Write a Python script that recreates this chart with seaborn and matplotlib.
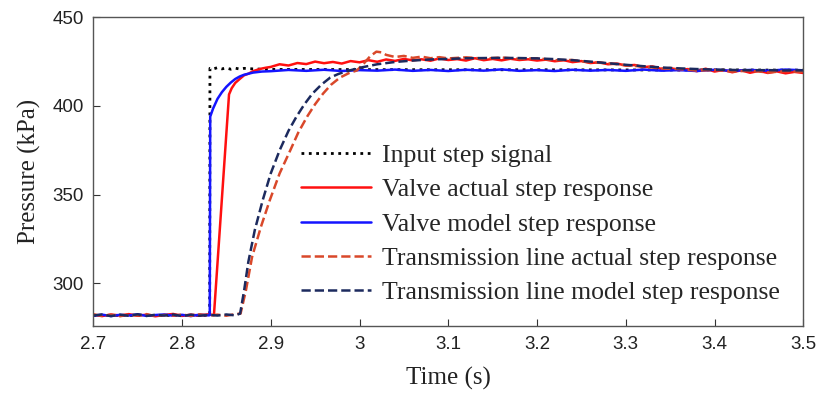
import numpy as np
import pandas as pd
import seaborn as sns
import matplotlib.pyplot as plt

# values (time in s, pressure in kPa)
input_t = [2.70, 2.73, 2.76, 2.79, 2.82, 2.8312, 2.8315, 2.835, 2.84, 2.845, 2.85, 2.855,
           2.86, 2.865, 2.87, 2.88, 2.90, 3.00, 3.10, 3.20, 3.30, 3.40, 3.50]
input_p = [282.0, 282.0, 282.0, 282.0, 282.0, 282.0, 421.2, 420.8, 421.6, 420.9, 421.4, 420.7,
           421.3, 420.8, 421.2, 420.9, 420.6, 420.5, 420.4, 420.4, 420.3, 420.3, 420.2]

valve_act_t = [2.70, 2.71, 2.72, 2.73, 2.74, 2.75, 2.76, 2.77, 2.78, 2.79, 2.80, 2.81, 2.82, 2.83,
               2.836, 2.853, 2.856, 2.86, 2.865, 2.87, 2.875, 2.88, 2.885, 2.89, 2.895,
               2.90, 2.91, 2.92, 2.93, 2.94, 2.95, 2.96, 2.97, 2.98, 2.99,
               3.00, 3.01, 3.02, 3.03, 3.04, 3.05, 3.06, 3.07, 3.08, 3.09,
               3.10, 3.11, 3.12, 3.13, 3.14, 3.15, 3.16, 3.17, 3.18, 3.19,
               3.20, 3.21, 3.22, 3.23, 3.24, 3.25, 3.26, 3.27, 3.28, 3.29,
               3.30, 3.31, 3.32, 3.33, 3.34, 3.35, 3.36, 3.37, 3.38, 3.39,
               3.40, 3.41, 3.42, 3.43, 3.44, 3.45, 3.46, 3.47, 3.48, 3.49, 3.50]
valve_act_p = [282.3, 281.6, 282.5, 281.9, 282.7, 281.8, 282.4, 281.5, 282.2, 282.8, 281.7, 282.4, 281.9, 282.6,
               282.1, 406.5, 410.0, 413.0, 415.2, 417.3, 418.2, 419.6, 420.4, 421.1, 421.6,
               422.0, 423.5, 422.8, 424.2, 423.6, 425.0, 424.1, 424.8, 423.9, 425.3,
               424.6, 425.8, 424.9, 426.2, 425.4, 426.5, 425.7, 426.3, 425.5, 426.8,
               425.9, 426.4, 425.6, 426.9, 425.8, 426.5, 425.7, 426.6, 425.9, 426.3,
               425.6, 426.1, 425.2, 425.8, 424.7, 425.3, 424.2, 424.6, 423.5, 423.9,
               422.8, 423.1, 421.9, 422.3, 420.9, 421.4, 420.2, 420.8, 419.6, 421.0,
               419.4, 420.3, 419.0, 420.1, 418.7, 419.8, 418.6, 419.5, 418.4, 419.2, 418.6]

valve_mod_t = [2.70, 2.71, 2.72, 2.73, 2.74, 2.75, 2.76, 2.77, 2.78, 2.79, 2.80, 2.81, 2.82, 2.83,
               2.8313, 2.8318, 2.835, 2.84, 2.845, 2.85, 2.855, 2.86, 2.865, 2.87, 2.88, 2.89,
               2.90, 2.92, 2.94, 2.96, 2.98, 3.00, 3.02, 3.04, 3.06, 3.08,
               3.10, 3.12, 3.14, 3.16, 3.18, 3.20, 3.22, 3.24, 3.26, 3.28,
               3.30, 3.32, 3.34, 3.36, 3.38, 3.40, 3.42, 3.44, 3.46, 3.48, 3.50]
valve_mod_p = [281.8, 282.4, 281.6, 282.3, 281.9, 282.6, 281.7, 282.2, 282.5, 281.8, 282.3, 281.6, 282.4, 282.0,
               282.1, 394.0, 398.5, 404.0, 407.8, 410.8, 413.2, 415.2, 416.6, 417.6, 418.8, 419.4,
               419.6, 420.3, 419.8, 420.4, 419.7, 420.2, 419.9, 420.5, 419.8, 420.3,
               419.7, 420.4, 419.9, 420.6, 419.8, 420.2, 419.7, 420.4, 419.9, 420.3,
               419.8, 420.5, 419.9, 420.2, 419.7, 420.4, 419.8, 420.3, 419.9, 420.5, 420.1]

line_act_t = [2.70, 2.71, 2.72, 2.73, 2.74, 2.75, 2.76, 2.77, 2.78, 2.79, 2.80, 2.81, 2.82, 2.83,
              2.84, 2.85, 2.86, 2.866, 2.872, 2.879, 2.889, 2.899, 2.910, 2.922, 2.931, 2.941,
              2.950, 2.959, 2.968, 2.978, 2.988, 2.997, 3.005, 3.012, 3.019, 3.025, 3.03,
              3.04, 3.05, 3.06, 3.07, 3.08, 3.09, 3.10, 3.12, 3.14, 3.16, 3.18,
              3.20, 3.22, 3.24, 3.26, 3.28, 3.30, 3.32, 3.34, 3.36, 3.38,
              3.40, 3.42, 3.44, 3.46, 3.48, 3.50]
line_act_p = [282.6, 281.7, 282.3, 281.5, 282.4, 281.9, 282.7, 281.6, 282.2, 281.8, 282.5, 281.7, 282.6, 281.9,
              282.4, 281.8, 282.7, 283.0, 296.0, 315.0, 332.0, 347.0, 362.0, 375.0, 385.0, 394.0,
              401.0, 407.0, 412.0, 416.0, 418.5, 420.0, 424.0, 428.0, 430.6, 430.2, 428.8,
              427.6, 428.2, 427.1, 427.8, 426.9, 427.5, 426.8, 427.4, 426.7, 427.3, 426.5,
              426.9, 425.8, 425.9, 424.6, 424.1, 422.9, 422.2, 421.1, 420.8, 419.9,
              420.3, 419.4, 419.9, 418.9, 419.6, 419.2]

line_mod_t = [2.70, 2.71, 2.72, 2.73, 2.74, 2.75, 2.76, 2.77, 2.78, 2.79, 2.80, 2.81, 2.82, 2.83,
              2.84, 2.85, 2.86, 2.8655, 2.870, 2.8747, 2.882, 2.891, 2.900, 2.910, 2.920, 2.929,
              2.938, 2.947, 2.957, 2.967, 2.976, 2.985, 3.00, 3.02, 3.04, 3.06, 3.08,
              3.10, 3.12, 3.14, 3.16, 3.18, 3.20, 3.22, 3.24, 3.26, 3.28,
              3.30, 3.32, 3.34, 3.36, 3.38, 3.40, 3.42, 3.44, 3.46, 3.48, 3.50]
line_mod_p = [281.9, 282.5, 281.6, 282.4, 281.8, 282.6, 281.7, 282.3, 281.9, 282.5, 281.6, 282.4, 281.8, 282.3,
              281.9, 282.5, 282.0, 283.0, 296.0, 312.0, 330.0, 347.0, 362.0, 375.0, 386.0, 394.0,
              401.0, 407.0, 412.0, 416.0, 418.0, 419.5, 421.5, 423.5, 424.8, 425.6, 426.2,
              426.5, 426.9, 427.0, 427.1, 427.0, 426.8, 426.4, 425.8, 425.0, 424.1,
              423.2, 422.4, 421.7, 421.2, 420.8, 420.5, 420.3, 420.1, 420.2, 420.0, 420.1]

labels = ["Input step signal", "Valve actual step response", "Valve model step response",
          "Transmission line actual step response", "Transmission line model step response"]

sns.set_style("ticks")
plt.rcParams['font.family'] = ['Liberation Serif', 'DejaVu Serif']

fig = plt.figure(figsize=(8.25, 4.01), dpi=100)
ax = fig.add_axes([0.113, 0.187, 0.8607, 0.770])

series = [
    (input_t, input_p, "black", ":", 2.0),
    (valve_act_t, valve_act_p, "#ff1010", "-", 1.8),
    (valve_mod_t, valve_mod_p, "#1414ff", "-", 1.8),
    (line_act_t, line_act_p, "#d9482a", "--", 1.8),
    (line_mod_t, line_mod_p, "#1c2a5e", "--", 1.8),
]
for (t, p, c, ls, lw), lab in zip(series, labels):
    df = pd.DataFrame({"t": t, "p": p})
    sns.lineplot(data=df, x="t", y="p", ax=ax, color=c, linestyle=ls, linewidth=lw,
                 label=lab, estimator=None)

ax.set_xlim(2.7, 3.5)
ax.set_ylim(276, 450)
ax.set_xticks([2.7, 2.8, 2.9, 3.0, 3.1, 3.2, 3.3, 3.4, 3.5])
ax.set_xticklabels(["2.7", "2.8", "2.9", "3", "3.1", "3.2", "3.3", "3.4", "3.5"])
ax.set_yticks([300, 350, 400, 450])
ax.tick_params(direction="in", length=5, width=0.8, color="#333333", pad=7)
for lbl in ax.get_xticklabels() + ax.get_yticklabels():
    lbl.set_fontfamily("Liberation Sans")
    lbl.set_fontsize(13.5)
    lbl.set_color("#222222")
for s in ax.spines.values():
    s.set_color("#555555")
    s.set_linewidth(1.0)

ax.set_xlabel("Time (s)", fontsize=18, color="#222222", labelpad=10)
ax.set_ylabel("Pressure (kPa)", fontsize=18, color="#222222", labelpad=8)

ax.legend(loc="upper left", bbox_to_anchor=(0.292, 0.588), frameon=False, fontsize=18.5,
          borderaxespad=0, borderpad=0, handlelength=2.75, handletextpad=0.4,
          labelspacing=0.43)

fig.savefig("out.png", dpi=100)
